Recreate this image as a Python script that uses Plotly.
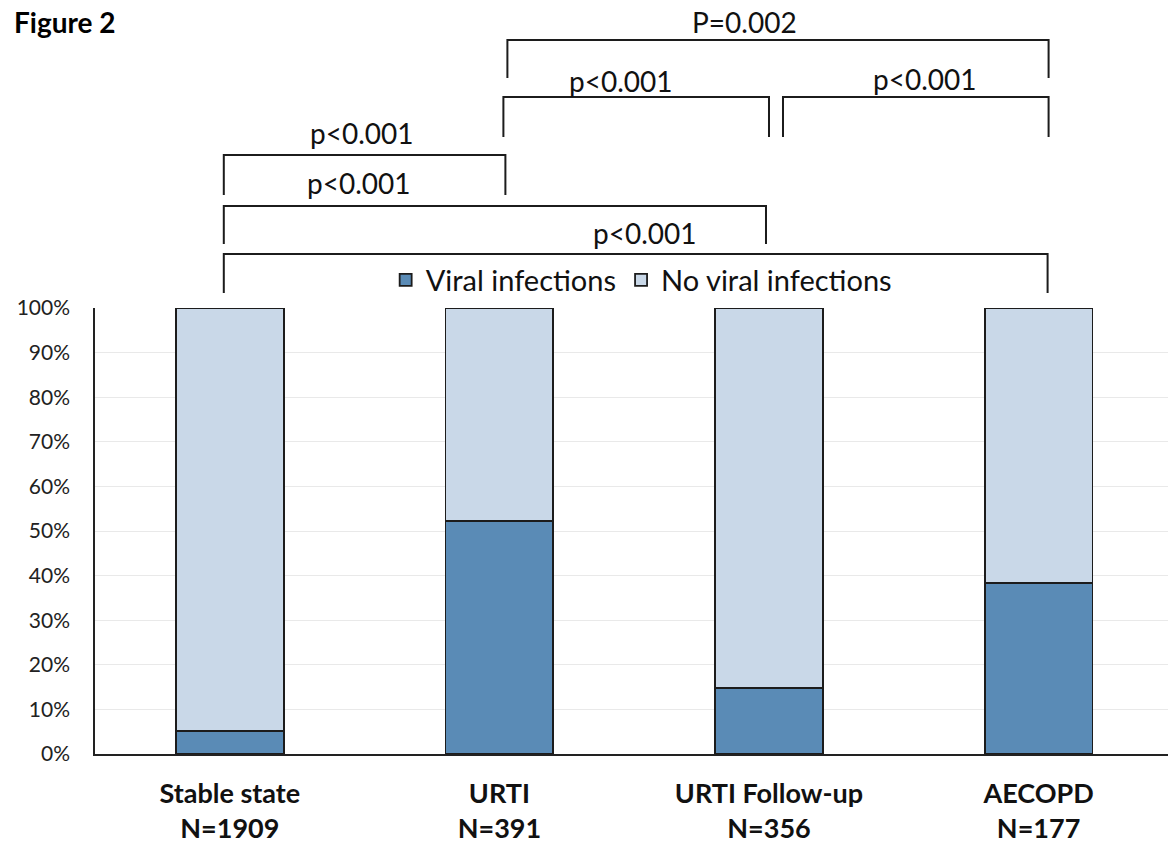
import plotly.graph_objects as go

# ---- data ----
categories = ["Stable state", "URTI", "URTI Follow-up", "AECOPD"]
n_labels = ["N=1909", "N=391", "N=356", "N=177"]
viral_pct = [5.2, 52.2, 14.8, 38.3]
no_viral_pct = [94.8, 47.8, 85.2, 61.7]
series_names = ["Viral infections", "No viral infections"]
y_ticks = [0, 10, 20, 30, 40, 50, 60, 70, 80, 90, 100]
# comparisons: (left group, right group, label)
comparisons = [
    (0, 1, "p<0.001"),
    (0, 2, "p<0.001"),
    (0, 3, "p<0.001"),
    (1, 2, "p<0.001"),
    (2, 3, "p<0.001"),
    (1, 3, "P=0.002"),
]

# ---- layout geometry (pixels) ----
W, H = 1168, 845
ML, MR, MT, MB = 95, 0, 308, 91
XR = [-0.5, 3.48]
plot_h = H - MT - MB
plot_w = W - ML - MR
px_per_cat = plot_w / (XR[1] - XR[0])

def px_to_py(py):
    return (H - MB - py) / plot_h

def cat_to_px(c):
    return (c - XR[0]) / (XR[1] - XR[0])

# bracket style: (top y px, leg bottom px, left x offset px, right x offset px, label x (cat), label y px)
bracket_geom = [
    (155, 195, -6, 6, 0.49, 133),
    (206, 244, -6, -3, 0.48, 183),
    (254, 293, -6, 9, 1.54, 233),
    (97, 137, 4, 0, 1.45, 81),
    (97, 137, 14, 10, 2.58, 79),
    (40, 78, 8, 10, 1.91, 22),
]

blue = "#5A8BB6"
light = "#C9D8E8"
edge = "#1c1c1c"
font_family = "Lato, 'Open Sans', sans-serif"

fig = go.Figure()
fig.add_trace(go.Bar(
    x=categories, y=viral_pct, name=series_names[0], width=0.4,
    marker=dict(color=blue, line=dict(color=edge, width=1.8)),
))
fig.add_trace(go.Bar(
    x=categories, y=no_viral_pct, name=series_names[1], width=0.4,
    marker=dict(color=light, line=dict(color=edge, width=1.8)),
))

ticktext = [f"<b>{c}</b><br><b>{n}</b>" for c, n in zip(categories, n_labels)]

shapes = []
annotations = []
for (i, j, lab), (ty, by, lo, ro, lx, ly) in zip(comparisons, bracket_geom):
    x0 = cat_to_px(i + lo / px_per_cat)
    x1 = cat_to_px(j + ro / px_per_cat)
    yt = px_to_py(ty)
    yb = px_to_py(by)
    path = f"M {x0},{yb} L {x0},{yt} L {x1},{yt} L {x1},{yb}"
    shapes.append(dict(type="path", path=path, xref="paper", yref="paper",
                       line=dict(color=edge, width=2)))
    annotations.append(dict(text=lab, x=cat_to_px(lx), y=px_to_py(ly), xref="paper", yref="paper",
                            showarrow=False, xanchor="center", yanchor="middle",
                            font=dict(family=font_family, size=28, color="#111111")))

fig.update_layout(
    width=W, height=H,
    margin=dict(l=ML, r=MR, t=MT, b=MB, pad=0),
    barmode="stack",
    plot_bgcolor="white", paper_bgcolor="white",
    font=dict(family=font_family, color="#222222"),
    title=dict(text="<b>Figure 2</b>", x=14 / W, xanchor="left", y=1 - 23 / H, yanchor="middle",
               xref="container", yref="container",
               font=dict(family=font_family, size=28, color="#000000")),
    legend=dict(orientation="h", x=0.509, xanchor="center", y=px_to_py(280), yanchor="middle",
                font=dict(family=font_family, size=29, color="#111111"),
                bgcolor="rgba(0,0,0,0)", itemclick=False, traceorder="normal"),
    shapes=shapes,
    annotations=annotations,
    xaxis=dict(range=XR, tickvals=categories, ticktext=ticktext, showgrid=False,
               showline=True, linecolor="#222222", linewidth=1.5, ticks="",
               tickfont=dict(family=font_family, size=27, color="#111111"),
               ticklabelstandoff=15),
    yaxis=dict(range=[0, 100], tickvals=y_ticks, ticktext=[f"{t}%" for t in y_ticks],
               showgrid=True, gridcolor="#E9E9E9", gridwidth=1.2,
               showline=True, linecolor="#222222", linewidth=1.5, ticks="",
               zeroline=False,
               tickfont=dict(family=font_family, size=21, color="#222222"),
               ticklabelstandoff=19),
)

fig.write_html("out.html")
